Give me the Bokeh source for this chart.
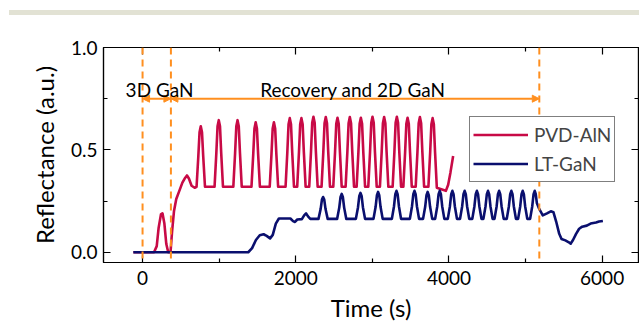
from bokeh.plotting import figure
from bokeh.layouts import column
from bokeh.models import (Range1d, LinearAxis, FixedTicker, Span, Arrow, NormalHead, Div,
                          Label, Legend, LegendItem, NumeralTickFormatter, CustomJSTickFormatter)
from bokeh.embed import file_html
from bokeh.resources import INLINE

# ---------------- data ----------------
pvd_t = [-120, 150, 185, 210, 240, 260, 285, 310, 335, 365, 385, 410, 440, 480, 520, 550, 580, 605, 640, 680,
         705, 728, 744, 760, 776, 792, 815,
         940, 963, 979, 995, 1011, 1027, 1050,
         1185, 1208, 1224, 1240, 1256, 1272, 1295,
         1422, 1445, 1461, 1477, 1493, 1509, 1532,
         1660, 1683, 1699, 1715, 1731, 1747, 1770,
         1867, 1890, 1906, 1922, 1938, 1954, 1977,
         2019, 2042, 2058, 2074, 2090, 2106, 2129,
         2176, 2199, 2215, 2231, 2247, 2263, 2286,
         2337, 2360, 2376, 2392, 2408, 2424, 2447,
         2490, 2513, 2529, 2545, 2561, 2577, 2600,
         2651, 2674, 2690, 2706, 2722, 2738, 2761,
         2795, 2818, 2834, 2850, 2866, 2882, 2905,
         2947, 2970, 2986, 3002, 3018, 3034, 3057,
         3099, 3122, 3138, 3154, 3170, 3186, 3209,
         3265, 3288, 3304, 3320, 3336, 3352, 3375,
         3405, 3428, 3444, 3460, 3476, 3492, 3515,
         3566, 3589, 3605, 3621, 3637, 3653, 3676,
         3732, 3755, 3771, 3787, 3803, 3819, 3842,
         3880, 3920, 3960, 3990, 4020, 4055]
pvd_r = [0.0, 0.0, 0.03, 0.12, 0.185, 0.19, 0.14, 0.04, 0.0, 0.0, 0.10, 0.20, 0.26, 0.30, 0.34, 0.36, 0.375, 0.36, 0.325, 0.315,
         0.32, 0.468, 0.586, 0.615, 0.586, 0.468, 0.32,
         0.32, 0.483, 0.615, 0.645, 0.615, 0.483, 0.32,
         0.32, 0.483, 0.615, 0.645, 0.615, 0.483, 0.32,
         0.32, 0.478, 0.605, 0.635, 0.605, 0.478, 0.32,
         0.32, 0.478, 0.605, 0.635, 0.605, 0.478, 0.32,
         0.32, 0.488, 0.625, 0.655, 0.625, 0.488, 0.32,
         0.32, 0.488, 0.625, 0.655, 0.625, 0.488, 0.32,
         0.32, 0.490, 0.632, 0.662, 0.632, 0.490, 0.32,
         0.32, 0.490, 0.630, 0.660, 0.630, 0.490, 0.32,
         0.32, 0.489, 0.627, 0.657, 0.627, 0.489, 0.32,
         0.32, 0.490, 0.630, 0.660, 0.630, 0.490, 0.32,
         0.32, 0.489, 0.627, 0.657, 0.627, 0.489, 0.32,
         0.32, 0.490, 0.632, 0.662, 0.632, 0.490, 0.32,
         0.32, 0.490, 0.630, 0.660, 0.630, 0.490, 0.32,
         0.32, 0.490, 0.632, 0.662, 0.632, 0.490, 0.32,
         0.32, 0.489, 0.627, 0.657, 0.627, 0.489, 0.32,
         0.32, 0.490, 0.630, 0.660, 0.630, 0.490, 0.32,
         0.32, 0.488, 0.625, 0.655, 0.625, 0.488, 0.315,
         0.31, 0.305, 0.30, 0.33, 0.39, 0.47]

ltg_t = [-120, 1380, 1430, 1480, 1530, 1580, 1620, 1665, 1700, 1740, 1780, 1930, 1965, 1990, 2020, 2080, 2110, 2135, 2160, 2190,
         2297, 2325, 2342, 2357, 2372, 2389, 2417,
         2540, 2568, 2585, 2600, 2615, 2632, 2660,
         2785, 2813, 2830, 2845, 2860, 2877, 2905,
         3015, 3043, 3060, 3075, 3090, 3107, 3135,
         3255, 3283, 3300, 3315, 3330, 3347, 3375,
         3490, 3518, 3535, 3550, 3565, 3582, 3610,
         3662, 3690, 3707, 3722, 3737, 3754, 3782,
         3820, 3848, 3865, 3880, 3895, 3912, 3940,
         3985, 4013, 4030, 4045, 4060, 4077, 4105,
         4145, 4173, 4190, 4205, 4220, 4237, 4265,
         4305, 4333, 4350, 4365, 4380, 4397, 4425,
         4450, 4478, 4495, 4510, 4525, 4542, 4570,
         4595, 4623, 4640, 4655, 4670, 4687, 4715,
         4755, 4783, 4800, 4815, 4830, 4847, 4875,
         4903, 4931, 4948, 4963, 4978, 4995, 5023,
         5060, 5088, 5105, 5120, 5133, 5148, 5175,
         5225, 5280, 5330, 5365, 5400, 5440, 5470, 5520, 5560, 5590, 5620, 5660, 5700, 5740, 5800, 5850, 5920, 5960, 6010]
ltg_r = [0.0, 0.0, 0.02, 0.06, 0.083, 0.088, 0.08, 0.068, 0.085, 0.14, 0.165, 0.165, 0.152, 0.148, 0.16, 0.162, 0.18, 0.19, 0.175, 0.163,
         0.163, 0.211, 0.257, 0.270, 0.257, 0.211, 0.163,
         0.163, 0.218, 0.270, 0.285, 0.270, 0.218, 0.163,
         0.163, 0.220, 0.275, 0.290, 0.275, 0.220, 0.163,
         0.163, 0.222, 0.279, 0.295, 0.279, 0.222, 0.163,
         0.163, 0.225, 0.284, 0.300, 0.284, 0.225, 0.163,
         0.163, 0.225, 0.284, 0.300, 0.284, 0.225, 0.163,
         0.163, 0.222, 0.279, 0.295, 0.279, 0.222, 0.163,
         0.163, 0.225, 0.284, 0.300, 0.284, 0.225, 0.163,
         0.163, 0.225, 0.284, 0.300, 0.284, 0.225, 0.163,
         0.163, 0.225, 0.284, 0.300, 0.284, 0.225, 0.163,
         0.163, 0.225, 0.284, 0.300, 0.284, 0.225, 0.163,
         0.163, 0.225, 0.284, 0.300, 0.284, 0.225, 0.163,
         0.163, 0.225, 0.284, 0.300, 0.284, 0.225, 0.163,
         0.163, 0.225, 0.284, 0.300, 0.284, 0.225, 0.163,
         0.163, 0.225, 0.284, 0.300, 0.284, 0.225, 0.163,
         0.163, 0.225, 0.284, 0.300, 0.285, 0.240, 0.215,
         0.18, 0.19, 0.20, 0.195, 0.15, 0.09, 0.065, 0.058, 0.05, 0.042, 0.06, 0.09, 0.115, 0.125, 0.13, 0.14, 0.145, 0.15, 0.153]

series_names = ["PVD-AlN", "LT-GaN"]
x_ticks = [0, 2000, 4000, 6000]
x_minor = [1000, 3000, 5000]
y_ticks = [0.0, 0.5, 1.0]
y_minor = [0.25, 0.75]
stage_bounds = [0, 370, 5180]          # dashed vertical markers (s)
stage_labels = ["3D GaN", "Recovery and 2D GaN"]
stage_label_x = [222, 2745]
arrow_y = 0.75
label_y = 0.7925

# ---------------- styles ----------------
RED = "#c80a46"
BLUE = "#0a0f6e"
ORANGE = "#ff8f1f"
FONT = "Lato"

p = figure(width=639, height=309, output_backend="svg", toolbar_location=None,
           x_range=Range1d(-510, 6475), y_range=Range1d(-0.05, 1.0),
           min_border_left=103, min_border_right=1, min_border_top=32, min_border_bottom=62)
p.xgrid.visible = False
p.ygrid.visible = False
p.outline_line_color = "black"
p.outline_line_width = 1.2
p.background_fill_color = "white"
p.border_fill_color = "white"


def style_axis(ax, ticks, minor, show_labels):
    ax.ticker = FixedTicker(ticks=ticks, minor_ticks=minor)
    ax.major_tick_in = 7
    ax.major_tick_out = 0
    ax.minor_tick_in = 4
    ax.minor_tick_out = 0
    ax.axis_line_color = "black"
    ax.axis_line_width = 1.2
    ax.major_tick_line_color = "black"
    ax.major_tick_line_width = 1.2
    ax.minor_tick_line_color = "black"
    ax.minor_tick_line_width = 1.2
    if show_labels:
        ax.major_label_text_font = FONT
        ax.major_label_text_font_size = "19px"
        ax.major_label_text_color = "black"
    else:
        ax.formatter = CustomJSTickFormatter(code="return ''")
        ax.major_label_standoff = 0


xa = p.xaxis[0]
ya = p.yaxis[0]
style_axis(xa, x_ticks, x_minor, True)
style_axis(ya, y_ticks, y_minor, True)
ya.formatter = NumeralTickFormatter(format="0.0")
xa.major_label_standoff = 8
ya.major_label_standoff = 6
xa.axis_label = "Time (s)"
ya.axis_label = "Reflectance (a.u.)"
for ax in (xa, ya):
    ax.axis_label_text_font = FONT
    ax.axis_label_text_font_size = "24px"
    ax.axis_label_text_font_style = "normal"
    ax.axis_label_text_color = "black"
xa.axis_label_standoff = 5
ya.axis_label_standoff = 9

top_ax = LinearAxis()
style_axis(top_ax, x_ticks, x_minor, False)
p.add_layout(top_ax, "above")
right_ax = LinearAxis()
style_axis(right_ax, y_ticks, y_minor, False)
p.add_layout(right_ax, "right")

# dashed stage markers
for loc in stage_bounds:
    p.add_layout(Span(location=loc, dimension="height", line_color=ORANGE,
                      line_width=2, line_dash="7 5"))

# stage arrows
for i in range(len(stage_bounds) - 1):
    p.add_layout(Arrow(x_start=stage_bounds[i], y_start=arrow_y,
                       x_end=stage_bounds[i + 1], y_end=arrow_y,
                       line_color=ORANGE, line_width=2,
                       start=NormalHead(size=7, fill_color=ORANGE, line_color=ORANGE, line_width=1),
                       end=NormalHead(size=7, fill_color=ORANGE, line_color=ORANGE, line_width=1)))

for txt, xx in zip(stage_labels, stage_label_x):
    p.add_layout(Label(x=xx, y=label_y, text=txt, text_align="center", text_baseline="alphabetic",
                       text_font=FONT, text_font_size="19px", text_color="black"))

r1 = p.line(pvd_t, pvd_r, line_color=RED, line_width=2.6, line_join="round")
r2 = p.line(ltg_t, ltg_r, line_color=BLUE, line_width=2.6, line_join="round")

legend = Legend(items=[LegendItem(label=series_names[0], renderers=[r1]),
                       LegendItem(label=series_names[1], renderers=[r2])],
                location=(366, 80), margin=0, padding=3, spacing=0,
                glyph_width=55, glyph_height=29, label_height=29, label_width=75,
                label_standoff=6, label_text_font=FONT, label_text_font_size="19px",
                border_line_color="black", border_line_width=1.2,
                background_fill_color="white", background_fill_alpha=1.0)
p.add_layout(legend)

# pale band across the top of the page
band = Div(text="", width=630, height=5, margin=(10, 0, 0, 9),
           styles={"background-color": "#e2e2d4"})

page = column(band, p, spacing=0)
open("out.html", "w").write(file_html(page, INLINE))
